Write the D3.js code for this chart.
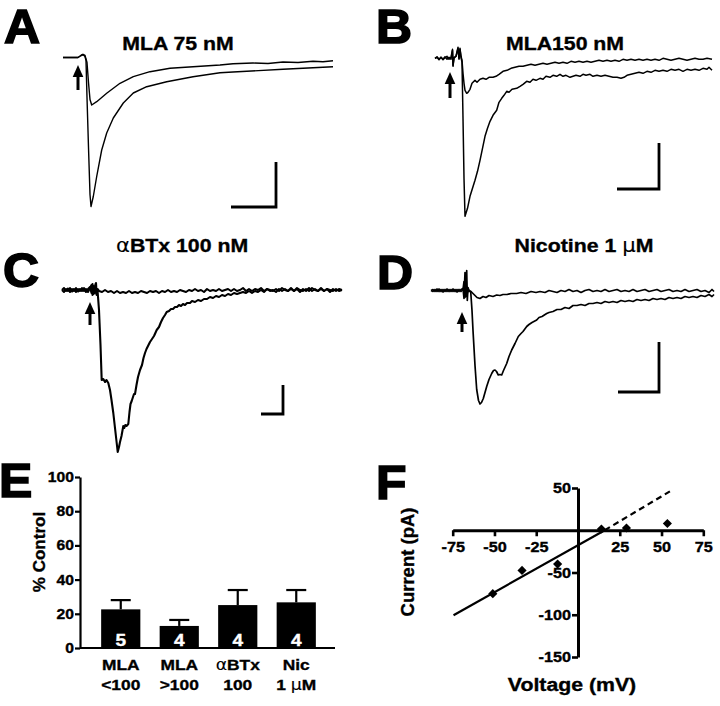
<!DOCTYPE html>
<html><head><meta charset="utf-8">
<script src="https://cdn.jsdelivr.net/npm/d3@7"></script>
<style>
body{margin:0;background:#fff}
svg{display:block}
text{font-family:"Liberation Sans",Arial,Helvetica,sans-serif;font-weight:bold;fill:#000;stroke:#000;stroke-width:0.35px}
</style>
</head><body><svg id="c" width="720" height="706"></svg>
<script>
// ---------------- DATA ----------------
const panelLetters = ["A","B","C","D","E","F"];
const traceTitles = ["MLA 75 nM","MLA150 nM","\u03b1BTx 100 nM","Nicotine 1 \u03bcM"];

// Panel A traces [time, current]
const traceA_control = [[0,0],[15,0],[18,2],[20,3],[22,1],[23,-3],[24,-40],[25.5,-90],[27,-137],[28,-149],[30.3,-139],[33.7,-119],[38.7,-92.5],[43.7,-75.5],[50.3,-60.5],[60.3,-45.5],[70.3,-35.5],[83.7,-29.2],[103.7,-24.2],[130,-19.2],[157,-15.2],[170,-14.5],[220,-11.8],[270,-9.2]];
const traceA_drug = [[0,0],[15,0],[18,2],[20,3],[22,2],[24,-5],[25.5,-25],[27,-42],[28.7,-47.5],[33.7,-44.2],[43.7,-35.8],[57,-25.8],[70.3,-19.2],[87,-14.2],[107,-10.8],[130,-9.2],[157,-7.5],[170,-6.2],[190,-5.5],[205,-6],[220,-4.5],[235,-5],[250,-3.8],[260,-4.2],[270,-3.2]];

// Panel B traces
const traceB_control = [[0,0],[2,1.5],[4,-1],[6,1],[8,-1.5],[10,0.5],[12,2],[14,-1],[16,1],[17.5,9],[18,-8],[19,1],[21,2],[23,11],[24,-1],[25,10],[26,1],[27,-4],[28,-60],[29,-120],[30,-158],[32.5,-150],[35,-138],[37.5,-130],[40,-122],[42.5,-113],[45,-102],[47.5,-90],[50,-78],[52.5,-70],[55,-63],[58,-57],[61.7,-52],[64,-44],[66.7,-40],[69,-37],[71.7,-33],[74,-34],[77,-31],[81.7,-30],[85,-28],[88,-26],[91.7,-23],[95,-24],[98,-21],[101,-22],[105,-20],[108,-21],[111,-18],[115,-19],[118,-17],[121.7,-18],[125,-16],[128,-18],[131,-17],[135,-19],[138,-18],[141,-17],[145,-18],[148,-16],[151,-17],[155,-16],[158,-18],[162,-17],[166,-18],[170,-17],[174,-18],[178,-19],[182,-19],[186,-20],[189,-19],[192,-17],[196,-16],[200,-15],[204,-14],[208,-15],[212,-13],[216,-14],[220,-12],[224,-13],[228,-12],[232,-13],[236,-11],[240,-12],[244,-11],[248,-13],[252,-11],[256,-12],[260,-11],[264,-12],[268,-10],[272,-11],[274,-9],[277,-12]];
const traceB_drug = [[0,0],[2,1],[4,-1.5],[6,1],[8,-1],[10,1.5],[12,-1],[14,1],[16,-1],[17.5,8],[18,-7],[19,0],[21,2],[23,10],[24,0],[25,9],[26,2],[27,-2],[28,-15],[29,-25],[30,-32],[31.7,-35],[33,-34],[35,-31],[37,-25],[40,-22],[42,-24],[45,-21],[48,-20],[51,-21],[54,-19],[58,-19],[61,-18],[64,-16],[68,-13],[72,-12],[76,-10],[80,-9],[84,-8],[88,-8],[92,-7],[96,-6],[100,-7],[104,-6],[108,-5],[112,-6],[116,-5],[120,-4],[124,-5],[128,-4],[132,-5],[136,-3],[140,-4],[144,-3],[148,-4],[152,-3],[156,-4],[160,-3],[164,-2],[168,-3],[172,-2],[176,-3],[180,-2],[184,-3],[188,-1],[192,-2],[196,-1],[200,-2],[204,-1],[208,-2],[212,-1],[216,-2],[220,-1],[224,-2],[228,0],[232,-1],[236,-2],[240,-1],[244,0],[248,-1],[252,-2],[256,-1],[260,0],[264,-1],[268,-1],[272,0],[277,-1]];

// Panel C traces
const traceC_control = [[0,0],[2,2],[4,-1],[6,1.5],[8,-2],[10,1],[12,-1],[14,2],[16,-1.5],[18,1],[20,-1],[22,2],[24,-2],[26,1],[28,3],[29.5,-3],[30.5,6],[31.5,-4],[32.5,3],[33.5,-2],[34,7],[34.7,-5],[35.5,0],[37,-20],[38.5,-55],[39.7,-90],[41.3,-89],[43,-92],[44.5,-90],[46.3,-93],[48,-100],[49.5,-110],[51.3,-123],[53,-138],[54.7,-153],[55.7,-162],[57,-157],[58,-152],[59.5,-146],[61.3,-136],[62.3,-138],[63.3,-135],[64.5,-136],[66.3,-134],[67.5,-122],[68.5,-114],[69.7,-111],[71,-107],[72,-104],[73,-104],[74.5,-95],[76,-87],[78,-80],[80,-75],[81.5,-68],[83,-63],[84.5,-59],[86,-56],[88,-52],[90,-49],[92,-46],[94.7,-40],[97,-37],[99,-32],[101,-28],[103,-25],[104.7,-22],[107,-21],[109,-19],[111,-19],[113,-17],[115,-17],[117,-15],[119,-16],[121,-14],[123,-15],[125,-13],[128,-13],[130,-11],[133,-12],[136,-10],[139,-11],[142,-9],[145,-9],[148,-7],[151,-8],[154,-6],[157,-7],[160,-5],[163,-6],[166,-4],[169,-5],[172,-3],[175,-4],[178,-3],[181,-2],[184,-3],[187,-1],[190,-3],[193,-1],[196,-2],[199,0],[202,-2],[205,1],[208,-1],[211,0],[214,-2],[217,1],[220,-1],[223,1],[226,-1],[229,2],[232,-1],[235,1],[238,-2],[241,1],[244,-1],[247,2],[250,-1],[253,1],[256,-1],[259,2],[262,-1],[265,1],[268,-2],[271,1],[274,-1],[277,1],[280,0]];
const traceC_drug = [[0,0],[2,-2],[4,1],[6,-1],[8,2],[10,-1.5],[12,1],[14,-2],[16,1],[18,-1],[20,2],[22,-1],[24,1],[26,-2],[28,2],[29.5,5],[30.5,-5],[31.5,4],[32.5,-3],[33.5,6],[34.5,-4],[35.5,1],[37,-1],[40,-2],[43,0],[46,-2],[49,-1],[52,-3],[55,-1],[58,-3],[61,-2],[64,-3],[67,-1],[70,-3],[73,-2],[76,-3],[79,-1],[82,-2],[85,-3],[88,-1],[91,-2],[94,-1],[97,-3],[100,-1],[103,-2],[106,0],[109,-2],[112,-1],[115,-2],[118,0],[121,-1],[124,-2],[127,0],[130,-1],[133,1],[136,-1],[139,0],[142,-2],[145,1],[148,-1],[151,0],[154,-1],[157,1],[160,-1],[163,0],[166,1],[169,-1],[172,1],[175,-1],[178,0],[181,2],[184,-1],[187,1],[190,-1],[193,1],[196,0],[199,2],[202,-1],[205,1],[208,0],[211,-1],[214,1],[217,-1],[220,2],[223,0],[226,-1],[229,1],[232,-1],[235,2],[238,0],[241,-1],[244,1],[247,-1],[250,2],[253,0],[256,-1],[259,1],[262,-1],[265,1],[268,0],[271,-1],[274,1],[277,-1],[280,0]];

// Panel D traces
const traceD_control = [[0,0],[2,1],[4,-1],[6,1.5],[8,-1],[10,1],[12,-1.5],[14,1],[16,-1],[18,1],[20,-1],[22,1.5],[24,-1],[26,1],[28,-1],[30,1],[32,2],[33,-8],[34,18],[35,-6],[35.7,20],[36.3,-10],[37,3],[38,-1],[39.7,-1],[41,-20],[42,-40],[44,-75],[45.7,-99],[47.5,-110],[49,-113.5],[50.5,-112],[52.3,-108],[54,-102],[55.7,-96],[58,-89],[60.7,-83],[62.5,-80],[64,-79.5],[65.5,-81],[67.3,-84.5],[69,-84],[70.7,-84.5],[72.5,-80],[75.7,-73],[78,-66],[80.7,-59.5],[84,-53],[87.3,-46],[90,-43],[92,-41],[95.7,-36],[98,-34],[101,-32],[105.7,-29.5],[108,-27],[111,-26],[115.7,-23],[118,-22],[122,-21],[126,-19],[130,-19],[134,-17],[138,-18],[142,-15],[146,-15],[150,-14],[154,-15],[158,-13],[162,-13],[166,-12],[170,-13],[174,-11],[178,-12],[182,-11],[186,-12],[190,-10],[194,-11],[198,-10],[202,-11],[206,-9],[210,-10],[214,-9],[218,-10],[222,-8],[226,-9],[230,-8],[234,-9],[238,-7],[242,-8],[246,-7],[250,-8],[254,-6],[258,-7],[262,-6],[266,-7],[270,-5],[274,-6],[278,-4],[281,-6],[283,-4]];
const traceD_drug = [[0,0],[2,-1],[4,1],[6,-1],[8,1.5],[10,-1],[12,1],[14,-1],[16,1.5],[18,-1],[20,1],[22,-1],[24,1],[26,-1.5],[28,1],[30,-1],[32,1],[33,9],[34,-7],[35,14],[36,-5],[37,2],[38,0],[40,-1],[42,-3],[44,-5],[46,-7],[49,-8],[52,-6],[55,-7],[58,-5],[62,-6],[65.7,-4.5],[69,-5],[72,-4],[76,-4],[80,-3],[85.7,-3],[90,-2],[95,-3],[100,-1],[105,-2],[109,-1],[114,-2],[118,0],[122,-1],[126,-2],[130,0],[134,-1],[138,1],[142,-1],[146,0],[150,-2],[154,0],[158,1],[162,-1],[166,0],[170,-1],[174,1],[178,-1],[182,0],[186,1],[190,-1],[194,0],[198,-1],[202,1],[206,-1],[210,0],[214,1],[218,-1],[222,0],[226,1],[230,-1],[234,0],[238,1],[242,-1],[246,0],[250,-1],[254,1],[258,-1],[262,0],[266,1],[270,-1],[274,0],[278,-2],[281,1],[283,-1]];

// Stimulus arrows [time, currentFrom, currentTo] and scale bars [time, current, dTime, dCurrent]
const stimArrows = [[15,-32.5,-7.5],[15,-39.7,-13.7],[28,-35,-12],[31,-41.5,-21.5]];
const scaleBars = [[213,-149.5,45,45],[224,-130.7,42,46],[221,-124,22,29],[228,-101.5,41,50]];

// Panel E bar chart
const barCategoriesLine1 = ["MLA","MLA","\u03b1BTx","Nic"];
const barCategoriesLine2 = ["<100",">100","100","1 \u03bcM"];
const barValues = [22.6, 12.9, 25.1, 26.7];
const barErrors = [5.4, 3.5, 8.8, 7.2];
const barN = [5, 4, 4, 4];
const eTicks = [0, 20, 40, 60, 80, 100];

// Panel F I-V
const ivVoltage = [-51, -33.5, -12.2, 14, 29, 53.5];
const ivCurrent = [-75, -47.5, -40, 1.5, 2.7, 8];
const fitSolid = [[-74.5, -100.5], [16, 0]];
const fitDashed = [[16, 0], [55, 46]];
const fXTicks = [-75, -50, -25, 0, 25, 50, 75];
const fXLabels = [-75, -50, -25, 25, 50, 75];
const fYTicks = [50, 0, -50, -100, -150];
const fYLabels = [50, -50, -100, -150];

// ---------------- DRAW ----------------
const svg = d3.select("#c");
const K = 1.12; // horizontal stretch of lettering

function rich(sel, str) {
  str.split(/([\u03b1\u03bc])/).filter(s => s.length).forEach(p => {
    const t = sel.append("tspan").text(p);
    if (/[\u03b1\u03bc]/.test(p)) t.attr("font-weight", "normal").style("stroke-width", "0.1px").attr("font-family", "DejaVu Sans, Liberation Sans");
  });
  return sel;
}
function txt(x, y, str, size, anchor, k) {
  const t = svg.append("text")
    .attr("transform", `translate(${x},${y}) scale(${k || K},1)`)
    .attr("font-size", size)
    .attr("text-anchor", anchor || "middle");
  return rich(t, str);
}

// panel letters
const letterPos = [[4,43],[376,43],[3,287],[377,289],[-1,497],[376,499]];
panelLetters.forEach((L, i) => {
  svg.append("text").attr("transform", `translate(${letterPos[i][0]},${letterPos[i][1]}) scale(1.04,1)`)
    .attr("font-size", 48).attr("font-weight", 900).style("stroke-width", "1.6px").text(L);
});

// trace panels
const tracePanels = [
  {c: traceA_control, d: traceA_drug, tDom: [0,270], xR: [63,333], iMin: -150, yR: [57.5,207.5], w: 1.4, title: [178,50]},
  {c: traceB_control, d: traceB_drug, tDom: [0,277], xR: [435,712], iMin: -160, yR: [58.3,218.3], w: 1.5, title: [565,50]},
  {c: traceC_control, d: traceC_drug, tDom: [0,280], xR: [62,342], iMin: -165, yR: [290,455], w: 2.1, title: [182,252]},
  {c: traceD_control, d: traceD_drug, tDom: [0,283], xR: [431,714], iMin: -115, yR: [290.5,405.5], w: 1.7, title: [584,252]}
];
tracePanels.forEach((p, i) => {
  const x = d3.scaleLinear().domain(p.tDom).range(p.xR);
  const y = d3.scaleLinear().domain([0, p.iMin]).range(p.yR);
  const line = d3.line().x(d => x(d[0])).y(d => y(d[1]));
  const g = svg.append("g");
  [p.d, p.c].forEach(tr => g.append("path").attr("d", line(tr)).attr("fill", "none")
    .attr("stroke", "#000").attr("stroke-width", p.w).attr("stroke-linejoin", "round"));
  // arrow
  const a = stimArrows[i];
  const ax = x(a[0]), yTip = y(a[2]), yTail = y(a[1]);
  g.append("line").attr("x1", ax).attr("x2", ax).attr("y1", yTail).attr("y2", yTip + 8)
    .attr("stroke", "#000").attr("stroke-width", 3);
  g.append("path").attr("d", `M${ax},${yTip} L${ax-5.3},${yTip+12} L${ax+5.3},${yTip+12} Z`).attr("fill", "#000");
  // scale bar
  const s = scaleBars[i];
  const sx = x(s[0]), sy = y(s[1]);
  g.append("path").attr("d", `M${x(s[0]-s[2])},${sy} L${sx},${sy} L${sx},${y(s[1]+s[3])}`)
    .attr("fill", "none").attr("stroke", "#000").attr("stroke-width", 2.8);
  // title
  txt(p.title[0], p.title[1], traceTitles[i], 19);
});

// ---------------- Panel E ----------------
{
  const y = d3.scaleLinear().domain([0, 100]).range([648, 477]);
  const x = d3.scaleBand().domain(barCategoriesLine1.map((d, i) => i)).range([91.5, 325.5]).paddingInner(0.33).paddingOuter(0.165);
  const g = svg.append("g");
  const ax = g.append("g").attr("transform", "translate(80,0)")
    .call(d3.axisLeft(y).tickValues(eTicks).tickSize(5).tickSizeOuter(0).tickPadding(1));
  ax.select(".domain").attr("stroke-width", 2.2);
  ax.selectAll(".tick line").attr("stroke-width", 2.2);
  ax.selectAll(".tick text").attr("font-size", 14).attr("font-family", "Liberation Sans, Arial")
    .attr("font-weight", "bold").attr("x", -6 / K).attr("transform", `scale(${K},1)`);
  g.append("line").attr("x1", 80).attr("x2", 335).attr("y1", y(0)).attr("y2", y(0))
    .attr("stroke", "#000").attr("stroke-width", 2.2);
  barValues.forEach((v, i) => {
    const bx = x(i), bw = x.bandwidth(), cx = bx + bw / 2;
    g.append("rect").attr("x", bx).attr("y", y(v)).attr("width", bw).attr("height", y(0) - y(v)).attr("fill", "#000");
    const top = y(v + barErrors[i]);
    g.append("line").attr("x1", cx).attr("x2", cx).attr("y1", y(v)).attr("y2", top).attr("stroke", "#000").attr("stroke-width", 2.2);
    g.append("line").attr("x1", cx - 10).attr("x2", cx + 10).attr("y1", top).attr("y2", top).attr("stroke", "#000").attr("stroke-width", 2.2);
    txt(cx, 646, String(barN[i]), 17).style("fill", "#fff").style("stroke", "#fff");
    txt(cx, 670, barCategoriesLine1[i], 15.5);
    txt(cx, 690, barCategoriesLine2[i], 15.5);
  });
  svg.append("text").attr("transform", "translate(45,552) rotate(-90)").attr("text-anchor", "middle")
    .attr("font-size", 17).text("% Control");
}

// ---------------- Panel F ----------------
{
  const x = d3.scaleLinear().domain([-75, 75]).range([452.7, 703.3]);
  const y = d3.scaleLinear().domain([50, -150]).range([488, 657]);
  const g = svg.append("g");
  const xa = g.append("g").attr("transform", `translate(0,${y(0)})`)
    .call(d3.axisBottom(x).tickValues(fXTicks).tickSize(6).tickSizeOuter(0).tickPadding(5)
      .tickFormat(d => fXLabels.includes(d) ? d : ""));
  const ya = g.append("g").attr("transform", `translate(${x(0)},0)`)
    .call(d3.axisLeft(y).tickValues(fYTicks).tickSize(6).tickSizeOuter(0).tickPadding(0)
      .tickFormat(d => fYLabels.includes(d) ? d : ""));
  [xa, ya].forEach(a => {
    a.select(".domain").attr("stroke-width", 3);
    a.selectAll(".tick line").attr("stroke-width", 2.6);
    a.selectAll(".tick text").attr("font-size", 14.5).attr("font-family", "Liberation Sans, Arial").attr("font-weight", "bold");
  });
  ya.selectAll(".tick text").attr("x", -7 / K).attr("transform", `scale(${K},1)`);
  xa.selectAll(".tick text").attr("transform", `scale(${K},1)`);
  ya.selectAll(".tick").filter(d => d === 0).remove();
  const line = d3.line().x(d => x(d[0])).y(d => y(d[1]));
  g.append("path").attr("d", line(fitSolid)).attr("stroke", "#000").attr("stroke-width", 2.2).attr("fill", "none");
  g.append("path").attr("d", line(fitDashed)).attr("stroke", "#000").attr("stroke-width", 2.2).attr("fill", "none").attr("stroke-dasharray", "6,4");
  const sym = d3.symbol(d3.symbolSquare, 42);
  ivVoltage.forEach((v, i) => {
    g.append("path").attr("d", sym()).attr("transform", `translate(${x(v)},${y(ivCurrent[i])}) rotate(45)`).attr("fill", "#000");
  });
  svg.append("text").attr("transform", "translate(414,562) rotate(-90)").attr("text-anchor", "middle")
    .attr("font-size", 18.5).text("Current (pA)");
  txt(572, 691, "Voltage (mV)", 19);
}
</script>
</body></html>
